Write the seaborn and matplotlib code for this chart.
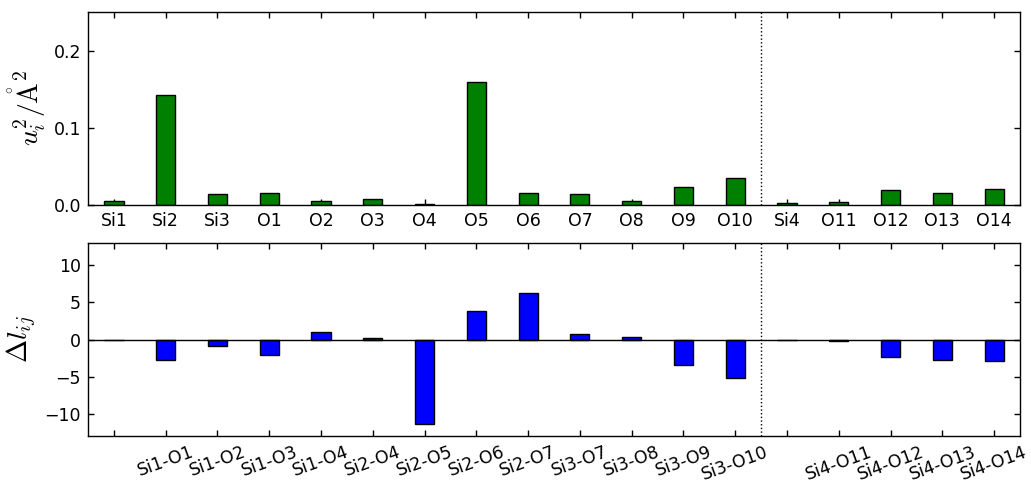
import matplotlib
matplotlib.use("Agg")
import matplotlib.pyplot as plt
import seaborn as sns
import pandas as pd

# Mean-square displacement per atom
atoms = ["Si1", "Si2", "Si3", "O1", "O2", "O3", "O4", "O5", "O6", "O7",
         "O8", "O9", "O10", "Si4", "O11", "O12", "O13", "O14"]
u2 = [0.0052, 0.142, 0.0148, 0.016, 0.0052, 0.0074, 0.0017, 0.159, 0.0156,
      0.0143, 0.0048, 0.023, 0.0347, 0.003, 0.0039, 0.0195, 0.016, 0.0208]

# Relative bond-length change per Si-O bond (empty slots carry no bond)
bonds = ["", "Si1-O1", "Si1-O2", "Si1-O3", "Si1-O4", "Si2-O4", "Si2-O5",
         "Si2-O6", "Si2-O7", "Si3-O7", "Si3-O8", "Si3-O9", "Si3-O10", "",
         "Si4-O11", "Si4-O12", "Si4-O13", "Si4-O14"]
dl = [0.0, -2.7, -0.86, -2.03, 1.04, 0.27, -11.35, 3.78, 6.3, 0.77, 0.4,
      -3.38, -5.18, 0.0, -0.22, -2.3, -2.8, -2.84]

divider_x = 12.5

sns.set_style("white")
plt.rcParams.update({
    "font.family": ["DejaVu Sans"],
    "mathtext.fontset": "cm",
    "text.color": "black",
    "axes.labelcolor": "black",
    "xtick.color": "black",
    "ytick.color": "black",
    "xtick.direction": "in",
    "ytick.direction": "in",
    "xtick.top": True,
    "ytick.right": True,
    "xtick.bottom": True,
    "ytick.left": True,
    "xtick.major.size": 4,
    "ytick.major.size": 4,
    "xtick.major.width": 1,
    "ytick.major.width": 1,
    "axes.edgecolor": "black",
    "axes.linewidth": 1,
})

fig = plt.figure(figsize=(10.31, 4.87), dpi=100)
ax1 = fig.add_axes([0.0854, 0.579, 0.9039, 0.3966])
ax2 = fig.add_axes([0.0854, 0.1047, 0.9039, 0.3963])

pos = list(range(len(atoms)))
df_top = pd.DataFrame({"pos": pos, "u2": u2})
df_bot = pd.DataFrame({"pos": pos, "dl": dl})

sns.barplot(data=df_top, x="pos", y="u2", ax=ax1, color="#008000",
            saturation=1, width=0.37, edgecolor="black", linewidth=1)
sns.barplot(data=df_bot, x="pos", y="dl", ax=ax2, color="#0000ff",
            saturation=1, width=0.37, edgecolor="black", linewidth=1)

ax1.set_xlim(-0.5, len(atoms) - 0.5)
ax1.set_ylim(0, 0.25)
ax1.set_yticks([0.0, 0.1, 0.2])
ax1.set_yticklabels(["0.0", "0.1", "0.2"])
ax1.set_xticks(pos)
ax1.set_xticklabels(atoms)
ax1.set_xlabel("")
ax1.set_ylabel(r"$u_i^2/\mathring{\mathrm{A}}^2$", fontsize=20)
ax1.axvline(divider_x, color="black", linestyle=":", linewidth=1)

ax2.set_xlim(-0.5, len(bonds) - 0.5)
ax2.set_ylim(-13, 13)
ax2.set_yticks([-10, -5, 0, 5, 10])
ax2.set_xticks(pos)
ax2.set_xticklabels(bonds, rotation=20, ha="center")
ax2.set_xlabel("")
ax2.set_ylabel(r"$\Delta l_{ij}$", fontsize=20)
ax2.axhline(0, color="black", linewidth=1)
ax2.axvline(divider_x, color="black", linestyle=":", linewidth=1)

for ax in (ax1, ax2):
    ax.tick_params(labelsize=12.5, pad=5, colors="black")
    for s in ax.spines.values():
        s.set_visible(True)
        s.set_color("black")

fig.savefig("out.png", dpi=100)
